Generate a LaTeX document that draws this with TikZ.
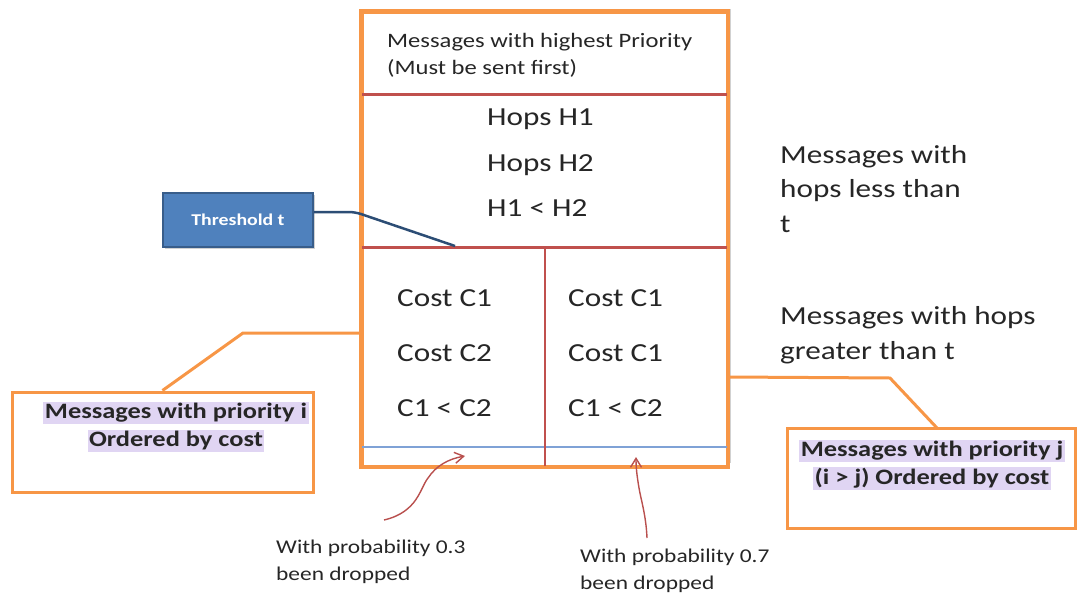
\documentclass[tikz,border=0pt]{standalone}
\usepackage{fontspec}
\setmainfont{Carlito}[FakeStretch=1.2]
\usetikzlibrary{shadows,arrows.meta}
\definecolor{offorange}{HTML}{F79646}
\definecolor{offred}{HTML}{C0504D}
\definecolor{offblue}{HTML}{4F81BD}
\definecolor{lightrule}{HTML}{7FA2D6}
\definecolor{offblueedge}{HTML}{385D8A}
\definecolor{leaderblue}{HTML}{2C4D75}
\definecolor{arrowred}{HTML}{B9504E}
\definecolor{glowc}{HTML}{E0D5F3}
\newcommand\glowline[1]{{\setlength\fboxsep{1.5pt}\colorbox{glowc}{#1}}}
\tikzset{
  mainbox/.style={draw=offorange, line width=3pt, fill=white, minimum width=365pt, minimum height=454pt, inner sep=0pt,
    drop shadow={shadow xshift=4pt, shadow yshift=3pt, opacity=0.3, fill=black!60}},
  callbox/.style={draw=offorange, line width=3pt, fill=white, inner sep=0pt},
  divider/.style={draw=offred, line width=3pt},
  thinred/.style={draw=offred, line width=1.1pt},
  thinblue/.style={draw=lightrule, line width=1.2pt},
  leader/.style={draw=offorange, line width=3pt},
  bigtext/.style={font=\fontsize{26}{45.5}\selectfont, align=left, inner sep=0pt, anchor=west, text=black!85},
  sidetext/.style={font=\fontsize{26}{34.5}\selectfont, align=left, inner sep=0pt, anchor=west, text=black!85},
  toptext/.style={font=\fontsize{20.5}{27}\selectfont, align=left, inner sep=0pt, anchor=west, text=black!85},
  calltext/.style={font=\bfseries\fontsize{22}{28}\selectfont, align=center, inner sep=0pt, text=black!85},
  notetext/.style={font=\fontsize{19.5}{27}\selectfont, align=left, inner sep=0pt, anchor=west, text=black!85},
  thrbox/.style={draw=offblueedge, line width=1.5pt, fill=offblue, minimum width=150pt, minimum height=54pt,
    text=white, font=\bfseries\fontsize{16.5}{20}\selectfont,
    drop shadow={shadow xshift=2pt, shadow yshift=-2pt, opacity=0.3, fill=black!60}},
  dropcurve/.style={draw=arrowred, line width=1.4pt, -{Straight Barb[length=9pt, width=11pt]}},
}
\begin{document}
\begin{tikzpicture}[x=1pt, y=-1pt]
\useasboundingbox (0,0) rectangle (1078,597);

% priority queue frame
\node[mainbox] (main) at (544.5,239) {};
\coordinate (rowA) at (0,94);
\coordinate (rowB) at (0,247);
\coordinate (rowC) at (0,447);
\draw[divider] (main.west |- rowA) -- (main.east |- rowA);
\draw[divider] (main.west |- rowB) -- (main.east |- rowB);
\draw[thinblue] (main.west |- rowC) -- (main.east |- rowC);
\coordinate (split) at (545,247);
\draw[thinred] (split) -- (split |- main.south);
\draw[draw=offorange, line width=3pt] (main.north west) rectangle (main.south east);

% texts inside the frame
\node[toptext] (toplbl) at (387,55.5) {Messages with highest Priority\\(Must be sent first)};
\node[bigtext] (hops) at (487,163) {Hops H1\\Hops H2\\H1 < H2};
\node[bigtext, font=\fontsize{26}{55}\selectfont] (costL) at (397,353) {Cost C1\\Cost C2\\C1 < C2};
\node[bigtext, font=\fontsize{26}{55}\selectfont] (costR) at (568,353) {Cost C1\\Cost C1\\C1 < C2};

% side notes
\node[sidetext] (less) at (780,189) {Messages with\\hops less than\\t};
\node[sidetext] (greater) at (780,335) {Messages with hops\\greater than t};

% threshold marker
\node[thrbox] (thr) at (238,220) {Threshold t};
\coordinate (thrbend) at (355,212);
\coordinate (thrtip) at (455,246);
\draw[draw=leaderblue, line width=2.5pt, rounded corners=6pt] (thr.east |- thrbend) -- (thrbend) -- (thrtip);

% left callout
\node[callbox, minimum width=301pt, minimum height=100pt] (lc) at (162.5,442) {};
\node[calltext] (lct) at (176,427) {\glowline{Messages with priority i}\\\glowline{Ordered by cost}};
\coordinate (lcbend) at (243,333);
\coordinate (lcend) at (main.west |- lcbend);
\draw[leader] (lc.north) -- (lcbend) -- (lcend);

% right callout
\node[callbox, minimum width=288pt, minimum height=100pt] (rc) at (931,478) {};
\node[calltext] (rct) at (932,465) {\glowline{Messages with priority j}\\\glowline{(i > j) Ordered by cost}};
\coordinate (rcstart) at (main.east |- 0,377);
\coordinate (rcbend) at (890,378);
\coordinate (rctop) at (937,428);
\draw[leader] (rcstart) -- (rcbend) -- (rctop);

% drop probabilities
\node[notetext] (dropL) at (276,561.5) {With probability 0.3\\been dropped};
\node[notetext] (dropR) at (580,570.5) {With probability 0.7\\been dropped};
\coordinate (tailL) at (384,520);
\coordinate (headL) at (465,456);
\coordinate (tailR) at (647,538);
\coordinate (headR) at (636,457);
\draw[dropcurve] (tailL) .. controls (418,512) and (420,488) .. (428,478) .. controls (436,466) and (448,459) .. (headL);
\draw[dropcurve] (tailR) .. controls (646,515) and (641,500) .. (639,488) .. controls (637,476) and (636,468) .. (headR);
\end{tikzpicture}
\end{document}
